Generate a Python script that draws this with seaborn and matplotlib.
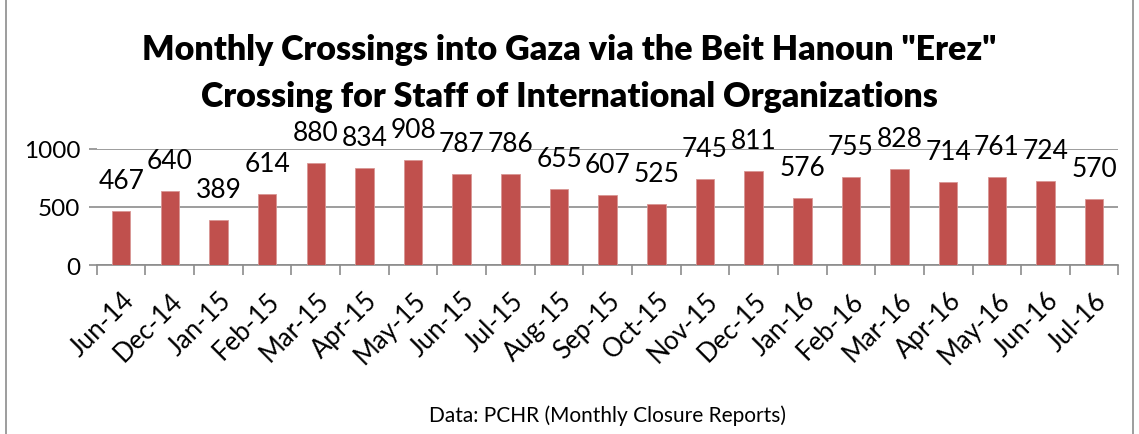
import numpy as np
import pandas as pd
import matplotlib
matplotlib.use("Agg")
import matplotlib.pyplot as plt
import seaborn as sns
from matplotlib.patches import Rectangle

# monthly crossings
months = ["Jun-14", "Dec-14", "Jan-15", "Feb-15", "Mar-15", "Apr-15", "May-15",
          "Jun-15", "Jul-15", "Aug-15", "Sep-15", "Oct-15", "Nov-15", "Dec-15",
          "Jan-16", "Feb-16", "Mar-16", "Apr-16", "May-16", "Jun-16", "Jul-16"]
crossings = [467, 640, 389, 614, 880, 834, 908, 787, 786, 655, 607, 525,
             745, 811, 576, 755, 828, 714, 761, 724, 570]

df = pd.DataFrame({"Month": months, "Crossings": crossings})

sns.set_theme(style="white")
plt.rcParams["font.family"] = ["Lato", "DejaVu Sans"]
plt.rcParams["text.color"] = "black"

fig = plt.figure(figsize=(11.39, 4.35), dpi=100)
ax = fig.add_axes([0.085, 0.3885, 0.897, 0.2667])

sns.barplot(data=df, x="Month", y="Crossings", color="#C0504D", saturation=1,
            width=0.38, edgecolor="#D99694", linewidth=0.6, ax=ax, zorder=3)

ax.set_ylim(0, 1000)
ax.set_xlim(-0.5, len(months) - 0.5)
ax.set_yticks([0, 500, 1000])
ax.yaxis.grid(True, color="#8C8C8C", linewidth=1.2, zorder=0)
ax.set_xlabel("")
ax.set_ylabel("")
for s in ["top", "right", "left"]:
    ax.spines[s].set_visible(False)
ax.spines["bottom"].set_color("#8C8C8C")
ax.spines["bottom"].set_linewidth(1.2)

ax.tick_params(axis="y", labelsize=17.5, length=6, color="#8C8C8C", width=1.2,
               left=True, pad=6, labelcolor="black")
ax.set_xticks(np.arange(len(months)))
ax.set_xticklabels(months, rotation=45, ha="right", rotation_mode="anchor",
                   fontsize=18.5, color="black")
ax.tick_params(axis="x", which="major", length=0, pad=16)
ax.set_xticks(np.arange(-0.5, len(months)), minor=True)
ax.tick_params(axis="x", which="minor", length=7, color="#8C8C8C", width=1.2, bottom=True)

for i, v in enumerate(crossings):
    ax.annotate(str(v), (i, v), xytext=(0, 13), textcoords="offset points",
                ha="center", va="bottom", fontsize=19, color="black")

fig.text(0.5, 0.885, 'Monthly Crossings into Gaza via the Beit Hanoun "Erez"',
         ha="center", va="center", fontsize=24.5, fontweight="heavy")
fig.text(0.5, 0.777, "Crossing for Staff of International Organizations",
         ha="center", va="center", fontsize=24.5, fontweight="heavy")
fig.text(0.533, 0.045, "Data: PCHR (Monthly Closure Reports)",
         ha="center", va="center", fontsize=15)

fig.patches.append(Rectangle((0.005, -0.01), 0.99, 1.02, transform=fig.transFigure,
                             fill=False, edgecolor="#8C8C8C", linewidth=1.2))

fig.savefig("out.png", dpi=100)
